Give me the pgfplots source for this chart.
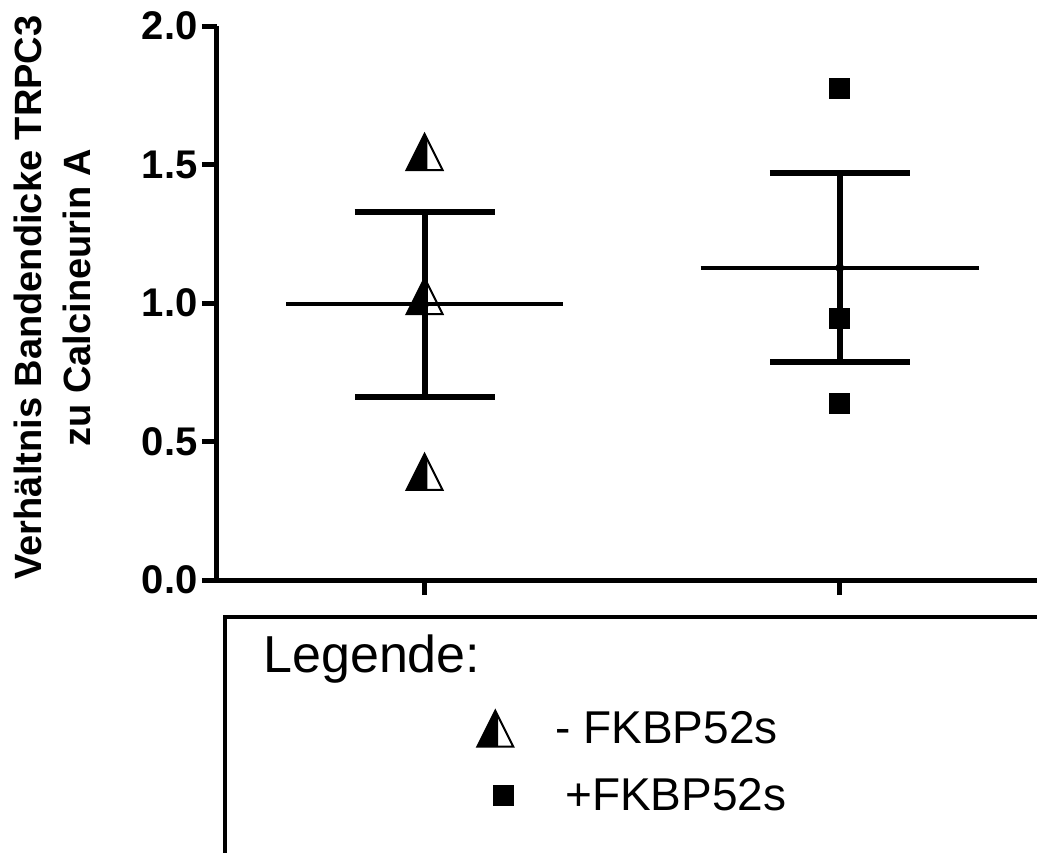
\documentclass[border=0pt]{standalone}
\usepackage{fontspec}
\setmainfont{Liberation Sans}
\usepackage{pgfplots}
\pgfplotsset{compat=1.18}

% triangle, left half black, right half white
\pgfdeclareplotmark{halftri}{%
  \pgfpathmoveto{\pgfqpoint{0pt}{\pgfplotmarksize}}%
  \pgfpathlineto{\pgfqpoint{-\pgfplotmarksize}{-\pgfplotmarksize}}%
  \pgfpathlineto{\pgfqpoint{0.15\pgfplotmarksize}{-\pgfplotmarksize}}%
  \pgfpathlineto{\pgfqpoint{0.15\pgfplotmarksize}{0.7\pgfplotmarksize}}%
  \pgfpathclose
  \pgfusepathqfill
  \pgfpathmoveto{\pgfqpoint{0pt}{\pgfplotmarksize}}%
  \pgfpathlineto{\pgfqpoint{-\pgfplotmarksize}{-\pgfplotmarksize}}%
  \pgfpathlineto{\pgfqpoint{\pgfplotmarksize}{-\pgfplotmarksize}}%
  \pgfpathclose
  \pgfusepathqstroke
}

\begin{document}
\begin{tikzpicture}
\useasboundingbox (-108.5pt,-136pt) rectangle (410pt,290pt);
\clip (-108.5pt,-136pt) rectangle (410pt,290pt);
\begin{axis}[
    scale only axis,
    width=410pt, height=277pt,
    xmin=0.5, xmax=2.475,
    ymin=0, ymax=2,
    axis lines*=left,
    axis line style={line width=2.5pt},
    xtick={1,2}, xticklabels={},
    ytick={0,0.5,1,1.5,2},
    tick align=outside,
    major tick length=7.5pt,
    tick style={line width=2.5pt, black},
    yticklabel style={font=\bfseries\fontsize{20}{24}\selectfont, inner sep=2pt},
    /pgf/number format/assume math mode=true,
    /pgf/number format/.cd, fixed, fixed zerofill, precision=1,
    /pgfplots/.cd,
    ylabel={Verhältnis Bandendicke TRPC3\\zu Calcineurin A},
    ylabel style={at={(axis description cs:-0.2012,0.51)}, anchor=center,
      align=center, font=\bfseries\fontsize{19}{24.5}\selectfont},
    legend style={at={(axis description cs:0.317,-0.329)}, anchor=west,
      draw=none, fill=none, inner sep=0pt,
      font=\fontsize{23}{27}\selectfont, row sep=12pt,
      /tikz/every odd column/.append style={column sep=19pt}},
    legend cell align=left,
]
% mean lines
\addplot[black, line width=2pt, forget plot] coordinates {(0.667,0.995) (1.333,0.995)};
\addplot[black, line width=2pt, forget plot] coordinates {(1.665,1.127) (2.335,1.127)};
% error bars
\addplot[black, only marks, mark=none, forget plot,
    error bars/.cd, y dir=both, y explicit,
    error bar style={line width=3pt, black, solid},
    error mark=|, error mark options={mark size=35pt, line width=3pt, black}]
  coordinates {(1,0.995) +- (0,0.335) (2,1.127) +- (0,0.341)};
% data points
\addplot[black, only marks, mark=halftri, mark size=9pt,
    mark options={fill=black, draw=black, line width=1pt, solid}]
  coordinates {(1,1.545) (1,1.025) (1,0.39)};
\addlegendentry{- FKBP52s}
\addplot[black, only marks, mark=square*, mark size=5pt,
    mark options={fill=black, draw=black},
    legend image post style={xshift=4pt}]
  coordinates {(2,1.776) (2,0.946) (2,0.639)};
\addlegendentry{\hspace*{5pt}+FKBP52s}
\end{axis}
\draw[line width=2pt] (4pt,-18.5pt) rectangle (600pt,-300pt);
\node[anchor=base west, inner sep=0pt, font=\fontsize{26}{31}\selectfont] at (23pt,-46pt) {Legende:};
\end{tikzpicture}
\end{document}
